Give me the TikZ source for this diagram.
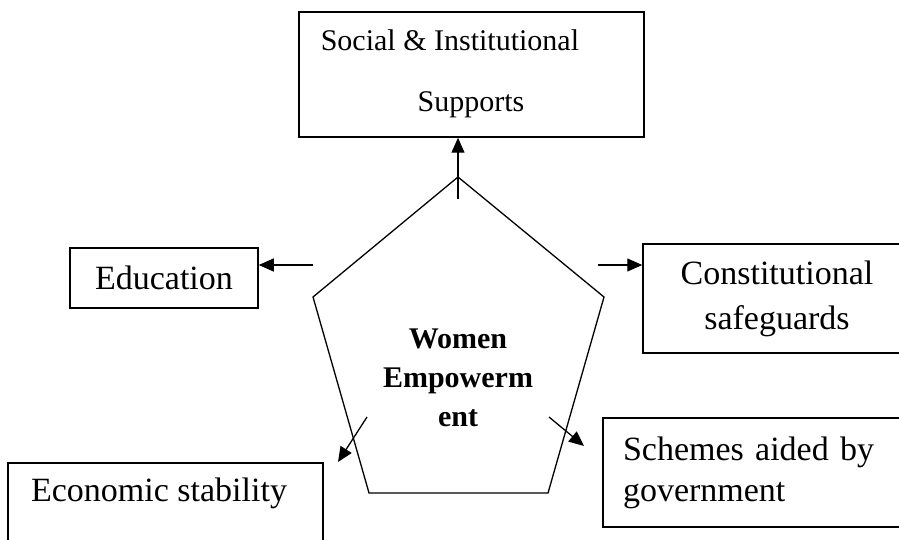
\documentclass[tikz,border=0pt]{standalone}
\usepackage{fontspec}
\setmainfont{Liberation Serif}
\usetikzlibrary{arrows.meta}

\begin{document}
\begin{tikzpicture}[x=1pt,y=1pt,line width=1.5pt,
    box/.style={draw,inner sep=0pt},
    arr/.style={line width=1.3pt,-{Triangle[length=15pt,width=13pt]}},
    big/.style={font=\fontsize{34}{45}\selectfont}]
        \useasboundingbox (0,0) rectangle (899,539);

        % boxes
        \node[box,minimum width=345,minimum height=125] (sup) at (471.5,464.5) {};
        \node[anchor=west,inner sep=0pt,font=\fontsize{30}{36}\selectfont] (suptop) at (320,499) {Social \& Institutional};
        \node[inner sep=0pt,font=\fontsize{30}{36}\selectfont] (supbot) at (471,434) {Supports};

        \node[box,big,minimum width=188,minimum height=60] (edu) at (164,261) {Education};

        \node[box,big,align=center,minimum width=268,minimum height=109] (con) at (777,240.5) {Constitutional\\safeguards};

        \node[box,font=\fontsize{34}{41}\selectfont,align=left,text width=277,inner xsep=20pt,minimum height=109] (sch) at (761.5,66.5) {Schemes aided by\\government};

        \node[box,minimum width=315,minimum height=100] (eco) at (165.5,26) {};
        \node[big,inner sep=0pt] (ecotext) at (159,46) {Economic stability};

        % pentagon
        \coordinate (p1) at (458,362);
        \coordinate (p2) at (604,242);
        \coordinate (p3) at (548,46);
        \coordinate (p4) at (369,46);
        \coordinate (p5) at (313,242);
        \draw[line width=1.3pt] (p1) -- (p2) -- (p3) -- (p4) -- (p5) -- cycle;
        \node[align=center,font=\fontsize{30}{39}\selectfont\bfseries] (we) at (458,161) {Women\\Empowerm\\ent};

        % arrows
        \coordinate (a1) at (458,340);
        \coordinate (a2) at (313,274);
        \coordinate (a3) at (598,274);
        \coordinate (a4) at (367,122);
        \coordinate (a5) at (338,77);
        \coordinate (a6) at (549,122);
        \coordinate (a7) at (584,93);
        \draw[arr] (a1) -- (a1 |- sup.south);
        \draw[arr] (a2) -- (a2 -| edu.east);
        \draw[arr] (a3) -- (a3 -| con.west);
        \draw[arr] (a4) -- (a5);
        \draw[arr] (a6) -- (a7);
    \end{tikzpicture}
\end{document}
